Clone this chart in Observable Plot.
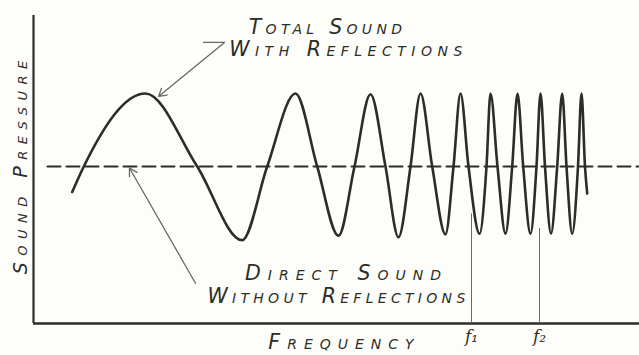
<!DOCTYPE html>
<html>
<head>
<meta charset="utf-8">
<script src="https://cdn.jsdelivr.net/npm/d3@7"></script>
<script src="https://cdn.jsdelivr.net/npm/@observablehq/plot@0.6"></script>
<style>
  html, body { margin: 0; padding: 0; background: #fdfdf9; }
  #chart svg { display: block; background: #fdfdf9; }
  g[aria-description="lettering-a"] text { letter-spacing: 4.3px; }
  g[aria-description="lettering-b"] text { letter-spacing: 5.5px; }
  g[aria-description="lettering-c"] text { letter-spacing: 7px; }
  g[aria-description="axislettering"] text { letter-spacing: 6.5px; }
</style>
</head>
<body>
<div id="chart"></div>
<script>
// Wave: frequency position (arbitrary units from the pressure axis) and sound pressure
// (0 = direct sound level, +1 = peak), read at extrema and zero crossings.
const waveFreq = [38.7, 50.3, 112, 163.7, 208.7, 233.7, 262, 283.7, 305, 321, 337, 352, 365, 377, 387, 398.7,
  412, 420, 427, 435, 446, 453, 457, 464, 472, 478.7, 484, 489.7, 497, 503, 507, 511.5, 517.5, 523.7,
  528.7, 533, 538.7, 544.5, 548, 551.5, 553.7];
const wavePressure = [-0.35, 0, 1.0, 0, -1.01, 0, 1.0, 0, -0.95, 0, 0.99, 0, -0.97, 0, 1.0, 0,
  -0.93, 0, 1.0, 0, -0.92, 0, 1.0, 0, -0.92, 0, 1.0, 0, -0.92, 0, 1.0, 0, -0.92, 0,
  1.0, 0, -0.92, 0, 1.0, 0, -0.37];

// Direct sound level (dashed)
const directFreq = [14, 606];
const directPressure = [0, 0];

// Marked frequencies
const markNames = ["f\u2081", "f\u2082"];
const markFreq = [438, 506];
const markTop = [-0.65, -0.85];

// Axis extents
const axisFreq = [0, 606];
const axisPressureTop = 2.07;
const axisPressureBottom = -2.15;

// Annotation texts
const labelTexts = ["Total Sound", "With Reflections", "Direct Sound", "Without Reflections"];
const labelFreq = [294, 315, 313, 305];
const labelPressure = [1.91, 1.6, -1.465, -1.775];
const labelGroup = ["a", "b", "c", "a"];

const waveData = waveFreq.map((f, i) => ({f, p: wavePressure[i]}));
const directData = directFreq.map((f, i) => ({f, p: directPressure[i]}));
const labels = labelTexts.map((t, i) => ({t, f: labelFreq[i], p: labelPressure[i], g: labelGroup[i]}));
const marks = markNames.map((n, i) => ({n, f: markFreq[i], top: markTop[i]}));

const ink = "#2d2d27";
const thin = "#6a6a62";
const letterStyle = {fontSize: 20.5, fontStyle: "italic", fontVariant: "small-caps", fontFamily: "DejaVu Sans", fill: ink};

const chart = Plot.plot({
  width: 639,
  height: 355,
  margin: 0,
  x: {domain: [0, 606], range: [33, 639], axis: null},
  y: {domain: [-1, 1], range: [239, 93], axis: null},
  style: {background: "#fdfdf9", overflow: "visible"},
  marks: [
    // axes
    Plot.ruleX([axisFreq[0]], {y1: axisPressureBottom, y2: axisPressureTop, stroke: ink, strokeWidth: 2.2}),
    Plot.ruleY([axisPressureBottom], {x1: axisFreq[0], x2: axisFreq[1], stroke: ink, strokeWidth: 2.6}),
    // marked frequency lines
    Plot.ruleX(marks, {x: "f", y1: "top", y2: axisPressureBottom, stroke: thin, strokeWidth: 1}),
    // direct sound dashed line
    Plot.line(directData, {x: "f", y: "p", stroke: ink, strokeWidth: 2, strokeDasharray: "13,6"}),
    // total sound wave
    Plot.line(waveData, {x: "f", y: "p", curve: "monotone-x", stroke: ink, strokeWidth: 2.6}),
    // leaders
    Plot.line([{f: 170, p: 1.699}, {f: 191, p: 1.699}], {x: "f", y: "p", stroke: thin, strokeWidth: 1.2}),
    Plot.arrow([{f1: 191, p1: 1.699, f2: 125, p2: 0.96}], {x1: "f1", y1: "p1", x2: "f2", y2: "p2", stroke: thin, strokeWidth: 1.3, headLength: 10}),
    Plot.arrow([{f1: 162, p1: -1.6, f2: 96, p2: -0.02}], {x1: "f1", y1: "p1", x2: "f2", y2: "p2", stroke: thin, strokeWidth: 1.3, headLength: 10}),
    // lettering
    Plot.text(labels.filter(d => d.g === "a"), {x: "f", y: "p", text: "t", ...letterStyle, ariaDescription: "lettering-a"}),
    Plot.text(labels.filter(d => d.g === "b"), {x: "f", y: "p", text: "t", ...letterStyle, ariaDescription: "lettering-b"}),
    Plot.text(labels.filter(d => d.g === "c"), {x: "f", y: "p", text: "t", ...letterStyle, ariaDescription: "lettering-c"}),
    Plot.text(["Frequency"], {x: 311, y: -2.41, ...letterStyle, ariaDescription: "lettering-c"}),
    Plot.text(["Sound Pressure"], {x: -13, y: 0.03, rotate: -90, ...letterStyle, fontSize: 19, ariaDescription: "axislettering"}),
    Plot.text(marks, {x: "f", y: -2.33, text: "n", fontSize: 17, fontStyle: "italic", fontFamily: "DejaVu Serif", fill: ink})
  ]
});
document.getElementById("chart").appendChild(chart);
</script>
</body>
</html>
